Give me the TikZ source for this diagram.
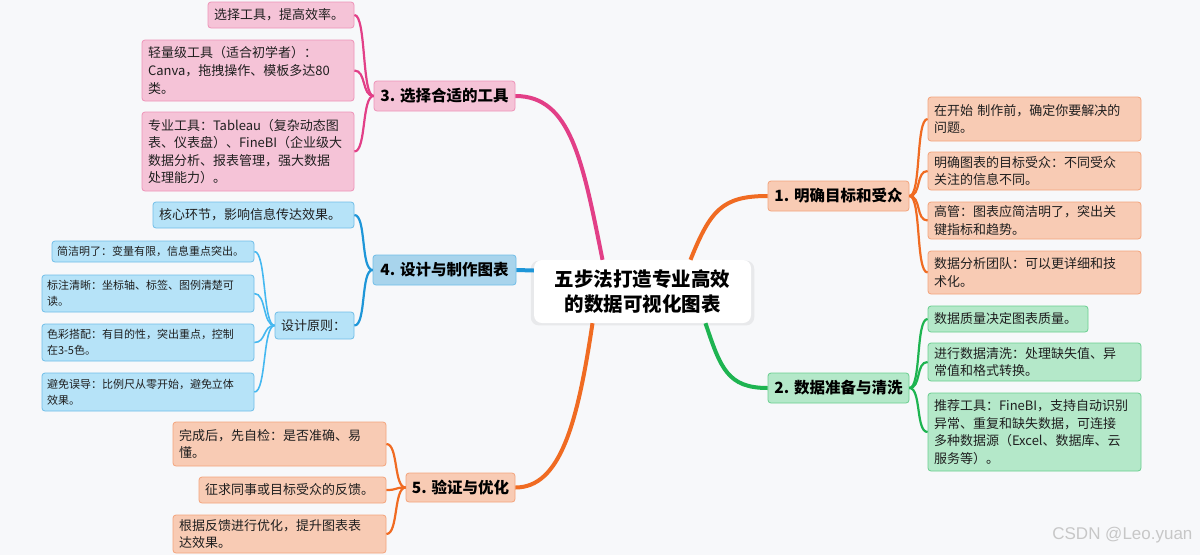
\documentclass[tikz,border=0pt]{standalone}
\usepackage{fontspec}
\setmainfont{Noto Sans CJK SC}
\newfontfamily\markfont{Liberation Sans}
\usetikzlibrary{shadows}
\definecolor{bgcol}{HTML}{F7F8FA}
\definecolor{pinkfill}{HTML}{F5C3D7}
\definecolor{pinkline}{HTML}{EE93B8}
\definecolor{pinkconn}{HTML}{E23F87}
\definecolor{orangefill}{HTML}{F8CBB4}
\definecolor{orangeline}{HTML}{F3A47C}
\definecolor{orangeconn}{HTML}{F06B22}
\definecolor{greenfill}{HTML}{B4E8C9}
\definecolor{greenline}{HTML}{6ACF8F}
\definecolor{greenconn}{HTML}{1EB451}
\definecolor{bluebranch}{HTML}{A8D4EC}
\definecolor{bluefill}{HTML}{B6E3F8}
\definecolor{blueline}{HTML}{70BEE8}
\definecolor{blueconn}{HTML}{1E96D8}
\definecolor{bluetwig}{HTML}{45B8F0}
\newcommand{\leaffont}{\fontsize{13}{17.6}\selectfont}
\newcommand{\subleaffont}{\fontsize{11}{16}\selectfont}
\newcommand{\branchfont}{\fontsize{15.5}{18}\selectfont\bfseries}
\newcommand{\rootfont}{\fontsize{19.5}{25}\selectfont\bfseries}

\begin{document}
\begin{tikzpicture}[
  x=1pt, y=-1pt,
  box/.style={draw, line width=0.8pt, rounded corners=3pt, inner xsep=6pt, inner ysep=0pt, align=left, text=black!88},
  leaf/.style={box, font=\leaffont},
  subleaf/.style={box, inner xsep=5pt, font=\subleaffont},
  branch/.style={draw, line width=0.8pt, rounded corners=3pt, inner sep=0pt, font=\branchfont},
  pinkbox/.style={fill=pinkfill, draw=pinkline},
  orangebox/.style={fill=orangefill, draw=orangeline},
  greenbox/.style={fill=greenfill, draw=greenline},
  bluebox/.style={fill=bluefill, draw=blueline},
  trunk/.style={line width=4pt},
  twig/.style={line width=2.2pt}
]
  \path[use as bounding box, fill=bgcol] (0,0) rectangle (1200,555);

  % root
  \node[fill=white, rounded corners=8pt, minimum width=217pt, minimum height=63pt,
    align=center, font=\rootfont,
    drop shadow={opacity=0.12, shadow xshift=0pt, shadow yshift=-1.5pt, shadow scale=1.03}]
    (ctr) at (642.5,291.5) {五步法打造专业高效\\的数据可视化图表};

  % branches
  \node[branch, orangebox, minimum width=141pt, minimum height=30pt] (b1) at (838.5,196) {1. 明确目标和受众};
  \node[branch, greenbox, minimum width=141pt, minimum height=30pt] (b2) at (838.5,388) {2. 数据准备与清洗};
  \node[branch, pinkbox, minimum width=141pt, minimum height=30pt] (b3) at (444.5,96) {3. 选择合适的工具};
  \node[branch, fill=bluebranch, draw=blueline, minimum width=143pt, minimum height=30pt] (b4) at (444.5,270) {4. 设计与制作图表};
  \node[branch, orangebox, minimum width=109pt, minimum height=29pt] (b5) at (460.5,487.5) {5. 验证与优化};

  % 1
  \node[leaf, orangebox, text width=201pt, minimum height=44pt] (l11) at (1034.5,119) {在开始 制作前，确定你要解决的\\问题。};
  \node[leaf, orangebox, text width=201pt, minimum height=38pt] (l12) at (1034.5,171) {明确图表的目标受众：不同受众\\关注的信息不同。};
  \node[leaf, orangebox, text width=201pt, minimum height=37pt] (l13) at (1034.5,220.5) {高管：图表应简洁明了，突出关\\键指标和趋势。};
  \node[leaf, orangebox, text width=201pt, minimum height=43pt] (l14) at (1034.5,272.5) {数据分析团队：可以更详细和技\\术化。};

  % 2
  \node[leaf, greenbox, text width=148pt, minimum height=26pt] (l21) at (1008,319) {数据质量决定图表质量。};
  \node[leaf, greenbox, text width=201pt, minimum height=38pt] (l22) at (1034.5,362) {进行数据清洗：处理缺失值、异\\常值和格式转换。};
  \node[leaf, greenbox, text width=201pt, minimum height=78pt] (l23) at (1034.5,432) {推荐工具：FineBI，支持自动识别\\异常、重复和缺失数据，可连接\\多种数据源（Excel、数据库、云\\服务等）。};

  % 3
  \node[leaf, pinkbox, text width=134pt, minimum height=26pt] (l31) at (281,15) {选择工具，提高效率。};
  \node[leaf, pinkbox, text width=200pt, minimum height=61pt] (l32) at (248,70.5) {轻量级工具（适合初学者）：\\Canva，拖拽操作、模板多达80\\类。};
  \node[leaf, pinkbox, text width=200pt, minimum height=79pt] (l33) at (248,151.5) {专业工具：Tableau（复杂动态图\\表、仪表盘）、FineBI（企业级大\\数据分析、报表管理，强大数据\\处理能力）。};

  % 4
  \node[leaf, bluebox, text width=189pt, minimum height=26pt] (l41) at (253.5,215) {核心环节，影响信息传达效果。};
  \node[leaf, bluebox, text width=67pt, minimum height=27pt] (l42) at (314.5,325.5) {设计原则：};
  \node[subleaf, bluebox, text width=192pt, minimum height=21pt] (s1) at (153,251.5) {简洁明了：变量有限，信息重点突出。};
  \node[subleaf, bluebox, text width=202pt, minimum height=37pt] (s2) at (148,293.5) {标注清晰：坐标轴、标签、图例清楚可\\读。};
  \node[subleaf, bluebox, text width=202pt, minimum height=37pt] (s3) at (148,342.5) {色彩搭配：有目的性，突出重点，控制\\在3-5色。};
  \node[subleaf, bluebox, text width=202pt, minimum height=38pt] (s4) at (148,392) {避免误导：比例尺从零开始，避免立体\\效果。};

  % 5
  \node[leaf, orangebox, text width=201pt, minimum height=44pt] (l51) at (279.5,444) {完成后，先自检：是否准确、易\\懂。};
  \node[leaf, orangebox, text width=175pt, minimum height=26pt] (l52) at (292.5,490) {征求同事或目标受众的反馈。};
  \node[leaf, orangebox, text width=201pt, minimum height=38pt] (l53) at (279.5,534) {根据反馈进行优化，提升图表表\\达效果。};

  % trunks
  \draw[trunk, orangeconn] ([xshift=48pt]ctr.north) .. controls +(20,-50) and +(-45,0) .. (b1.west);
  \draw[trunk, greenconn] ([xshift=63pt]ctr.south) .. controls +(15,45) and +(-40,0) .. (b2.west);
  \draw[trunk, pinkconn] (b3.east) .. controls +(55,0) and +(-20,-100) .. ([xshift=-40pt]ctr.north);
  \draw[trunk, blueconn] ([yshift=21pt]ctr.west) -- (b4.east);
  \draw[trunk, orangeconn] ([xshift=-50pt]ctr.south) .. controls +(-15,100) and +(45,0) .. (b5.east);

  % twigs
  \foreach \l in {l11,l12,l13,l14}
    \draw[twig, orangeconn] (b1.east) .. controls +(12,0) and +(-12,0) .. (\l.west);
  \foreach \l in {l21,l22,l23}
    \draw[twig, greenconn] (b2.east) .. controls +(12,0) and +(-12,0) .. (\l.west);
  \foreach \l in {l31,l32,l33}
    \draw[twig, pinkconn] (b3.west) .. controls +(-12,0) and +(12,0) .. (\l.east);
  \foreach \l in {l41,l42}
    \draw[twig, blueconn] (b4.west) .. controls +(-12,0) and +(12,0) .. (\l.east);
  \foreach \l in {s1,s2,s3,s4}
    \draw[twig, bluetwig, line width=1.6pt] (l42.west) .. controls +(-12,0) and +(12,0) .. (\l.east);
  \foreach \l in {l51,l52,l53}
    \draw[twig, orangeconn] (b5.west) .. controls +(-12,0) and +(12,0) .. (\l.east);

  \node[font=\markfont\fontsize{17}{20}\selectfont, text=black!22, anchor=east] (mark) at (1196,535) {CSDN @Leo.yuan};
\end{tikzpicture}
\end{document}
